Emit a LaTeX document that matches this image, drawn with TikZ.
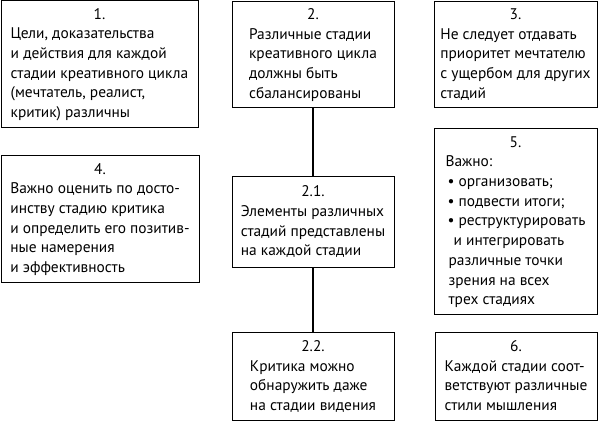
\documentclass[tikz,border=0pt]{standalone}
\usepackage{fontspec}
\setmainfont{PT Sans}
\begin{document}
\begin{tikzpicture}[x=1pt,y=-1pt,
  box/.style={draw, line width=1pt, inner sep=0pt, outer sep=0pt, align=left,
    font=\fontsize{15.4}{19.7}\selectfont},
  link/.style={line width=2pt}]
\useasboundingbox (0,0) rectangle (598,422);
\newcommand{\tb}[2]{\begin{tabular}{@{}l@{}}\multicolumn{1}{@{}c@{}}{#1}\\#2\end{tabular}}
\renewcommand{\arraystretch}{1}
\node[box, minimum width=197, minimum height=127] (b1) at (99.5,64.5)
  {\tb{1.}{Цели, доказательства\\и действия для каждой\\стадии креативного цикла\\(мечтатель, реалист,\\критик) различны}};
\node[box, minimum width=162, minimum height=106] (b2) at (313,55)
  {\tb{2.}{Различные стадии\\креативного цикла\\должны быть\\сбалансированы}};
\node[box, minimum width=163, minimum height=106] (b3) at (515.5,55)
  {\tb{3.}{Не следует отдавать\\приоритет мечтателю\\с ущербом для других\\стадий}};
\node[box, minimum width=198, minimum height=127] (b4) at (100,219.5)
  {\tb{4.}{Важно оценить по досто-\\инству стадию критика\\и определить его позитив-\\ные намерения\\и эффективность}};
\node[box, minimum width=162, minimum height=91] (b21) at (313,222.5)
  {\tb{2.1.}{Элементы различных\\стадий представлены\\на каждой стадии}};
\node[box, minimum width=163, minimum height=186] (b5) at (515.5,222)
  {\tb{5.}{Важно:\\\hspace{2pt}\textbullet\ организовать;\\\hspace{2pt}\textbullet\ подвести итоги;\\\hspace{2pt}\textbullet\ реструктурировать\\\hspace{8pt}и интегрировать\\\hspace{3pt}различные точки\\\hspace{3pt}зрения на всех\\\hspace{3pt}трех стадиях}};
\node[box, minimum width=162, minimum height=88] (b22) at (313,377)
  {\tb{2.2.}{Критика можно\\обнаружить даже\\на стадии видения}};
\node[box, minimum width=162, minimum height=88] (b6) at (516,377)
  {\tb{6.}{Каждой стадии соот-\\ветствуют различные\\стили мышления}};
\draw[link] (b2) -- (b21);
\draw[link] (b21) -- (b22);
\end{tikzpicture}
\end{document}
